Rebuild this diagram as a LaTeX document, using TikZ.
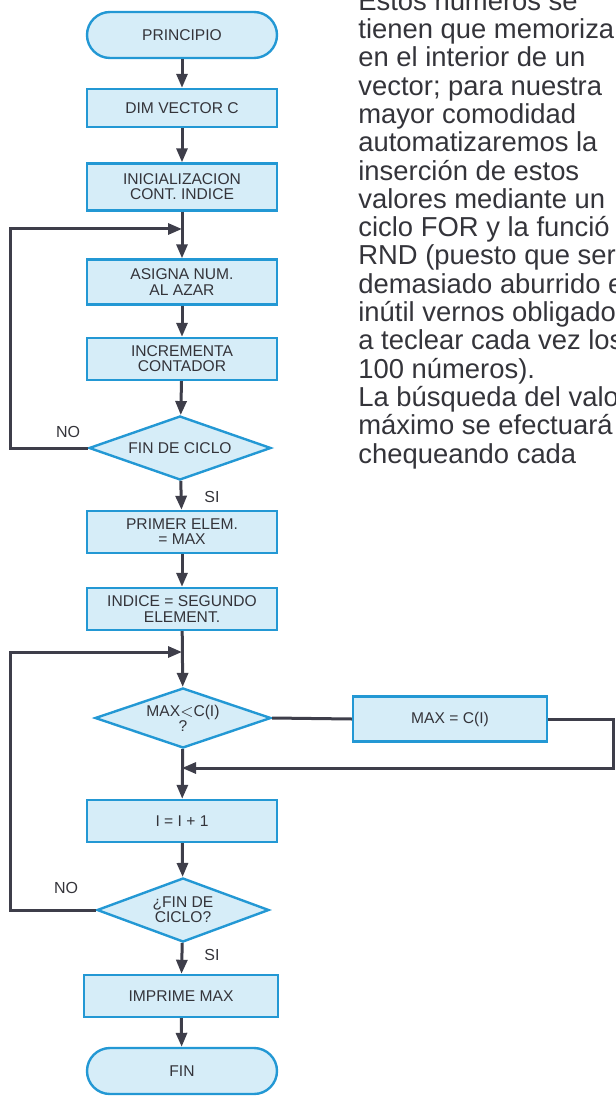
\documentclass[tikz,border=0pt]{standalone}
\usepackage{fontspec}
\setmainfont{Liberation Sans}
\usepackage{xcolor}
\usetikzlibrary{shapes.geometric,arrows.meta}
\definecolor{boxfill}{RGB}{214,237,248}
\definecolor{boxline}{RGB}{35,152,212}
\definecolor{flowline}{RGB}{62,62,74}
\definecolor{inktext}{RGB}{52,52,58}

\begin{document}
\begin{tikzpicture}[x=0.5pt,y=-0.5pt,
  box/.style={draw=boxline,fill=boxfill,line width=1.2pt,minimum width=95pt,minimum height=21pt,
    inner sep=0pt,align=center,text=inktext,font=\fontsize{7.8}{7.6}\selectfont},
  term/.style={box,rounded corners=11.5pt,minimum height=23pt},
  decision/.style={box,diamond,aspect=2.8,minimum width=90pt,minimum height=32pt},
  flow/.style={draw=flowline,line width=1.5pt},
  flowarrow/.style={flow,-{Triangle[length=7pt,width=5.5pt]}},
  tag/.style={text=inktext,font=\fontsize{8}{8}\selectfont}]
     \useasboundingbox (0,0) rectangle (615,1096);
     \clip (0,0) rectangle (615,1096);
     \node[term] (start) at (182,35) {PRINCIPIO};
     \node[box,minimum height=19pt] (dim) at (182,108) {DIM VECTOR C};
     \node[box,minimum height=23.5pt] (init) at (182,187) {INICIALIZACION\\CONT. INDICE};
     \node[box,minimum height=22.5pt] (rand) at (182,282) {ASIGNA NUM.\\AL AZAR};
     \node[box] (incr) at (182,359) {INCREMENTA\\CONTADOR};
     \node[decision,minimum width=91pt] (endloop) at (180,448) {FIN DE CICLO};
     \node[box] (first) at (182,532) {PRIMER ELEM.\\= MAX};
     \node[box] (index) at (182,609) {INDICE = SEGUNDO\\ELEMENT.};
     \node[decision,minimum width=88pt,minimum height=30pt] (test) at (183,718) {MAX$<$C(I)\\?};
     \node[box,minimum width=97pt,minimum height=22.5pt] (newmax) at (450,719) {MAX = C(I)};
     \node[box] (next) at (182,821) {I = I + 1};
     \node[decision,minimum width=86pt] (endtest) at (183,910) {¿FIN DE\\CICLO?};
     \node[box,minimum width=97pt] (print) at (181,996) {IMPRIME MAX};
     \node[term] (finish) at (182,1071) {FIN};
     \coordinate (j1) at (182,229);
     \coordinate (l1) at (10,229);
     \coordinate (j2) at (182,652);
     \coordinate (l2) at (10,652);
     \coordinate (j3) at (182,768);
     \coordinate (r1) at (613,768);
     \draw[flowarrow] (start) -- (dim);
     \draw[flowarrow] (dim) -- (init);
     \draw[flowarrow] (init) -- (rand);
     \draw[flowarrow] (rand) -- (incr);
     \draw[flowarrow] (incr) -- (endloop);
     \draw[flowarrow] (endloop.west) -| (l1) -- (j1);
     \draw[flowarrow] (endloop) -- (first);
     \draw[flowarrow] (first) -- (index);
     \draw[flowarrow] (index) -- (test);
     \draw[flow] (test.east) -- (newmax.west);
     \draw[flowarrow] (newmax.east) -| (r1) -- (j3);
     \draw[flowarrow] (test) -- (next);
     \draw[flowarrow] (next) -- (endtest);
     \draw[flowarrow] (endtest.west) -| (l2) -- (j2);
     \draw[flowarrow] (endtest) -- (print);
     \draw[flowarrow] (print) -- (finish);
     \node[tag] (no1) at (68,432) {NO};
     \node[tag] (si1) at (212,497) {SI};
     \node[tag] (no2) at (66,888) {NO};
     \node[tag] (si2) at (212,955) {SI};
     \node[anchor=base west,align=left,inner sep=0pt,text=inktext,
       font=\fontsize{13.7}{14.15}\selectfont] (notes) at (358,463)
       {Estos números se\\tienen que memoriza\\en el interior de un\\vector; para nuestra\\
        mayor comodidad\\automatizaremos la\\inserción de estos\\valores mediante un\\
        ciclo FOR y la funció\\RND (puesto que ser\\demasiado aburrido e\\
        inútil vernos obligados\\a teclear cada vez los\\100 números).\\
        La búsqueda del valo\\máximo se efectuará\\chequeando cada};
\end{tikzpicture}
\end{document}
